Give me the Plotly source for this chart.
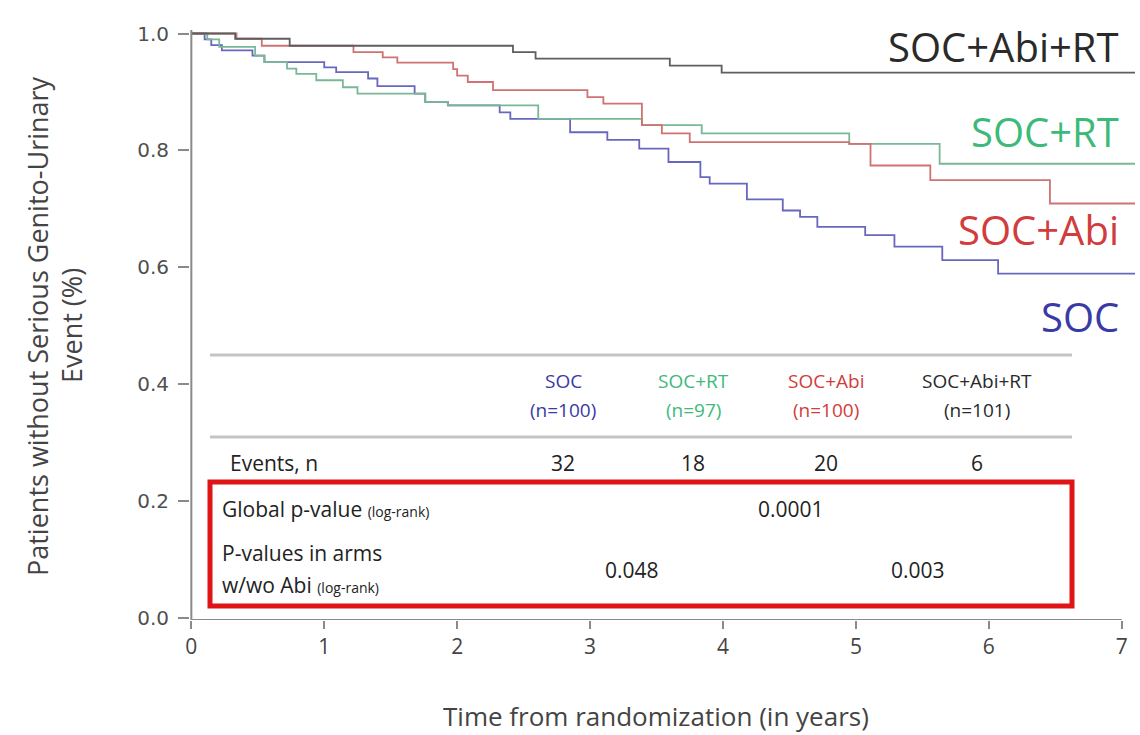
import plotly.graph_objects as go

# ---------------- data ----------------
arms = ["SOC", "SOC+RT", "SOC+Abi", "SOC+Abi+RT"]
arm_n = ["(n=100)", "(n=97)", "(n=100)", "(n=101)"]
events = ["32", "18", "20", "6"]

soc_t = [0, 0.10, 0.15, 0.23, 0.46, 0.55, 1.00, 1.09, 1.33, 1.40, 1.68, 1.76, 1.93,
         2.32, 2.40, 2.85, 3.13, 3.37, 3.59, 3.83, 3.90, 4.18, 4.45, 4.58, 4.71,
         5.07, 5.29, 5.65, 6.07, 7.10]
soc_s = [1.000, 0.990, 0.980, 0.971, 0.962, 0.951, 0.942, 0.934, 0.923, 0.910, 0.897, 0.883, 0.877,
         0.865, 0.854, 0.831, 0.818, 0.803, 0.780, 0.754, 0.743, 0.716, 0.697, 0.686, 0.669,
         0.655, 0.635, 0.612, 0.589, 0.589]

rt_t = [0, 0.12, 0.21, 0.48, 0.55, 0.72, 0.79, 0.94, 1.14, 1.25, 1.76, 1.93, 2.61,
        3.39, 3.84, 4.95, 5.63, 7.10]
rt_s = [1.000, 0.990, 0.977, 0.962, 0.951, 0.940, 0.931, 0.920, 0.908, 0.897, 0.883, 0.877, 0.854,
        0.843, 0.829, 0.811, 0.777, 0.777]

abi_t = [0, 0.34, 0.53, 1.22, 1.44, 1.55, 1.97, 2.00, 2.08, 2.27, 2.98, 3.10, 3.39,
         3.54, 3.75, 4.95, 5.11, 5.56, 6.46, 7.10]
abi_s = [1.000, 0.991, 0.979, 0.968, 0.959, 0.950, 0.939, 0.928, 0.917, 0.903, 0.891, 0.880, 0.843,
         0.829, 0.814, 0.811, 0.774, 0.749, 0.709, 0.709]

abirt_t = [0, 0.33, 0.74, 2.42, 2.59, 3.60, 3.99, 7.10]
abirt_s = [1.000, 0.991, 0.979, 0.968, 0.957, 0.945, 0.933, 0.933]

x_ticks = [0, 1, 2, 3, 4, 5, 6, 7]
y_ticks = [0.0, 0.2, 0.4, 0.6, 0.8, 1.0]
y_ticklabels = ["0.0", "0.2", "0.4", "0.6", "0.8", "1.0"]

global_p = "0.0001"
p_abi = ["0.048", "0.003"]

# ---------------- styling ----------------
line_cols = ["#6767be", "#78b897", "#d07272", "#5e5e5e"]
text_cols = ["#3a3aa6", "#3dba7a", "#d23c3c", "#2a2a2a"]
FONT = "Open Sans"
W, H = 1140, 735
L, R, T, B = 190, 5, 30, 115
pw, ph = W - L - R, H - T - B


def px(x):
    return (x - L) / pw


def py(y):
    return (H - B - y) / ph


fig = go.Figure()
series = [(soc_t, soc_s), (rt_t, rt_s), (abi_t, abi_s), (abirt_t, abirt_s)]
for (tt, ss), name, col in zip(series, arms, line_cols):
    fig.add_trace(go.Scatter(x=tt, y=ss, mode="lines", line=dict(color=col, width=1.8, shape="hv"),
                             name=name, showlegend=False, hoverinfo="skip"))


def note(text, x, y, size, color="#222", xanchor="center", angle=0, family=FONT):
    return dict(text=text, x=px(x), y=py(y), xref="paper", yref="paper",
                xanchor=xanchor, yanchor="middle", showarrow=False, textangle=angle,
                font=dict(family=family, size=size, color=color))


ann = []
# right-hand curve labels
label_y = [316, 131, 229, 47]
for name, col, yy in zip(arms, text_cols, label_y):
    ann.append(note(name, 1121, yy, 40, col, xanchor="right"))

# table header
col_x = [563, 693, 826, 977]
for name, n, col, cx in zip(arms, arm_n, text_cols, col_x):
    ann.append(note(name, cx, 381, 19, col))
    ann.append(note(n, cx, 410, 19, col))
# events row
ann.append(note("Events, n", 228, 463, 21, xanchor="left"))
for ev, cx in zip(events, col_x):
    ann.append(note(ev, cx, 463, 21))
# p-values
small = "<span style='font-size:14px'>(log-rank)</span>"
ann.append(note("Global p-value " + small, 220, 509, 21, xanchor="left"))
ann.append(note(global_p, 791, 509, 21))
ann.append(note("P-values in arms", 220, 553, 21, xanchor="left"))
ann.append(note("w/wo Abi " + small, 220, 585, 21, xanchor="left"))
for pv, cx in zip(p_abi, [632, 918]):
    ann.append(note(pv, cx, 570, 21))

# axis titles
ann.append(note("Time from randomization (in years)", 656, 716, 26, "#444"))
ann.append(note("Patients without Serious Genito-Urinary", 37, 326, 27, "#444", angle=-90))
ann.append(note("Event (%)", 71, 326, 27, "#444", angle=-90))

shapes = [
    # x axis line
    dict(type="line", xref="x", yref="y", x0=0, x1=7, y0=-0.004, y1=-0.004,
         line=dict(color="#8a8a8a", width=2)),
    # y axis line
    dict(type="line", xref="x", yref="y", x0=0, x1=0, y0=-0.004, y1=1.006,
         line=dict(color="#8a8a8a", width=2)),
    # table rules
    dict(type="line", xref="paper", yref="paper", x0=px(210), x1=px(1072), y0=py(355), y1=py(355),
         line=dict(color="#c4c4c4", width=3)),
    dict(type="line", xref="paper", yref="paper", x0=px(210), x1=px(1072), y0=py(437), y1=py(437),
         line=dict(color="#c4c4c4", width=3)),
    # red box
    dict(type="rect", xref="paper", yref="paper", x0=px(210), x1=px(1072), y0=py(606), y1=py(482),
         line=dict(color="#e01414", width=5), fillcolor="rgba(0,0,0,0)"),
]

fig.update_layout(
    width=W, height=H, margin=dict(l=L, r=R, t=T, b=B),
    paper_bgcolor="white", plot_bgcolor="white",
    annotations=ann, shapes=shapes,
    xaxis=dict(range=[-0.01, 7.1], tickvals=x_ticks, ticktext=[str(v) for v in x_ticks],
               ticks="outside", ticklen=8, tickwidth=2, tickcolor="#8a8a8a",
               showgrid=False, zeroline=False, showline=False,
               tickfont=dict(family=FONT, size=21, color="#444")),
    yaxis=dict(range=[-0.004, 1.006], tickvals=y_ticks, ticktext=y_ticklabels,
               ticks="outside", ticklen=11, tickwidth=2, tickcolor="#8a8a8a",
               ticklabelstandoff=5,
               showgrid=False, zeroline=False, showline=False,
               tickfont=dict(family="DejaVu Sans", size=20, color="#505050")),
)

fig.write_html("out.html")
